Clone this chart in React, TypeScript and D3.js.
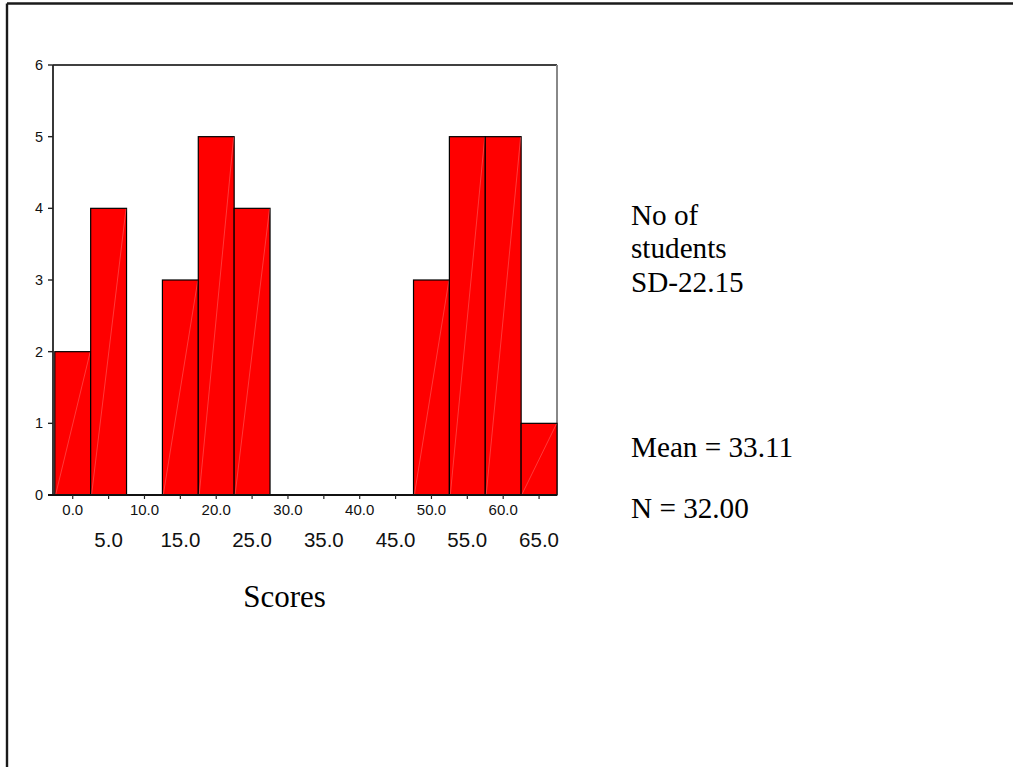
import React from "react";
import * as d3 from "d3";

const binMids = [0, 5, 10, 15, 20, 25, 30, 35, 40, 45, 50, 55, 60, 65];
const counts = [2, 4, 0, 3, 5, 4, 0, 0, 0, 0, 3, 5, 5, 1];
const binWidth = 5;
const yTicks = [0, 1, 2, 3, 4, 5, 6];
const xTickValues = [0, 5, 10, 15, 20, 25, 30, 35, 40, 45, 50, 55, 60, 65];
const lowerRowTicks = [0, 10, 20, 30, 40, 50, 60];
const upperRowTicks = [5, 15, 25, 35, 45, 55, 65];
const xTitle = "Scores";
const sideLines = ["No of", "students", "SD-22.15"];
const meanText = "Mean = 33.11";
const nText = "N = 32.00";

const W = 1013;
const H = 767;

export default function App() {
  const x = d3.scaleLinear().domain([-2.5, 67.5]).range([54.8, 557]);
  const y = d3.scaleLinear().domain([0, 6]).range([495, 65]);
  const sans = "'Liberation Sans', Arial, sans-serif";
  const serif = "'Liberation Serif', 'Times New Roman', serif";
  const left = 53;
  const right = 557;
  const top = y(6);
  const bottom = y(0);

  return (
    <svg
      width={W}
      height={H}
      style={{ position: "absolute", left: 0, top: 0, background: "#fff" }}
    >
      {/* outer frame */}
      <line x1={7} y1={3.5} x2={W} y2={3.5} stroke="#1a1a1a" strokeWidth={2.4} />
      <line x1={7} y1={3.5} x2={7} y2={H} stroke="#1a1a1a" strokeWidth={2.4} />

      {/* plot frame */}
      <line x1={left} y1={top} x2={right} y2={top} stroke="#000" strokeWidth={1.6} />
      <line x1={right} y1={top} x2={right} y2={bottom} stroke="#888" strokeWidth={2} />

      {/* bars */}
      {binMids.map((m, i) => {
        const c = counts[i];
        if (c <= 0) return null;
        const x0 = x(m - binWidth / 2);
        const x1 = x(m + binWidth / 2);
        const y0 = y(c);
        return (
          <g key={m}>
            <rect
              x={x0}
              y={y0}
              width={x1 - x0}
              height={bottom - y0}
              fill="#ff0000"
              stroke="#000"
              strokeWidth={1.2}
            />
            <line
              x1={x0 + 1}
              y1={bottom - 1}
              x2={x1 - 0.5}
              y2={y0 + 0.5}
              stroke="#ff8a8a"
              strokeWidth={0.6}
              opacity={0.7}
            />
          </g>
        );
      })}

      {/* y axis */}
      <line x1={left} y1={top} x2={left} y2={bottom} stroke="#222" strokeWidth={1.8} />
      {yTicks.map((t) => (
        <g key={t}>
          <line x1={left - 5} y1={y(t)} x2={left} y2={y(t)} stroke="#222" strokeWidth={1.4} />
          <text
            x={left - 10}
            y={y(t) + 5}
            textAnchor="end"
            fontFamily={sans}
            fontSize={14.5}
            fill="#111"
          >
            {t}
          </text>
        </g>
      ))}

      {/* x axis */}
      <line x1={left - 5} y1={bottom} x2={right} y2={bottom} stroke="#111" strokeWidth={1.8} />
      {xTickValues.map((t) => (
        <line key={t} x1={x(t)} y1={bottom} x2={x(t)} y2={bottom + 4} stroke="#222" strokeWidth={1.2} />
      ))}
      {lowerRowTicks.map((t) => (
        <text
          key={t}
          x={x(t)}
          y={515}
          textAnchor="middle"
          fontFamily={sans}
          fontSize={15}
          fill="#111"
        >
          {t.toFixed(1)}
        </text>
      ))}
      {upperRowTicks.map((t) => (
        <text
          key={t}
          x={x(t)}
          y={547}
          textAnchor="middle"
          fontFamily={sans}
          fontSize={20.5}
          fill="#111"
        >
          {t.toFixed(1)}
        </text>
      ))}

      <text x={284.5} y={607} textAnchor="middle" fontFamily={serif} fontSize={31} fill="#000">
        {xTitle}
      </text>

      {sideLines.map((s, i) => (
        <text key={s} x={631} y={225 + i * 33.3} fontFamily={serif} fontSize={29.2} fill="#000">
          {s}
        </text>
      ))}
      <text x={631} y={456.7} fontFamily={serif} fontSize={29.2} fill="#000">
        {meanText}
      </text>
      <text x={631} y={518.3} fontFamily={serif} fontSize={29.2} fill="#000">
        {nText}
      </text>
    </svg>
  );
}
